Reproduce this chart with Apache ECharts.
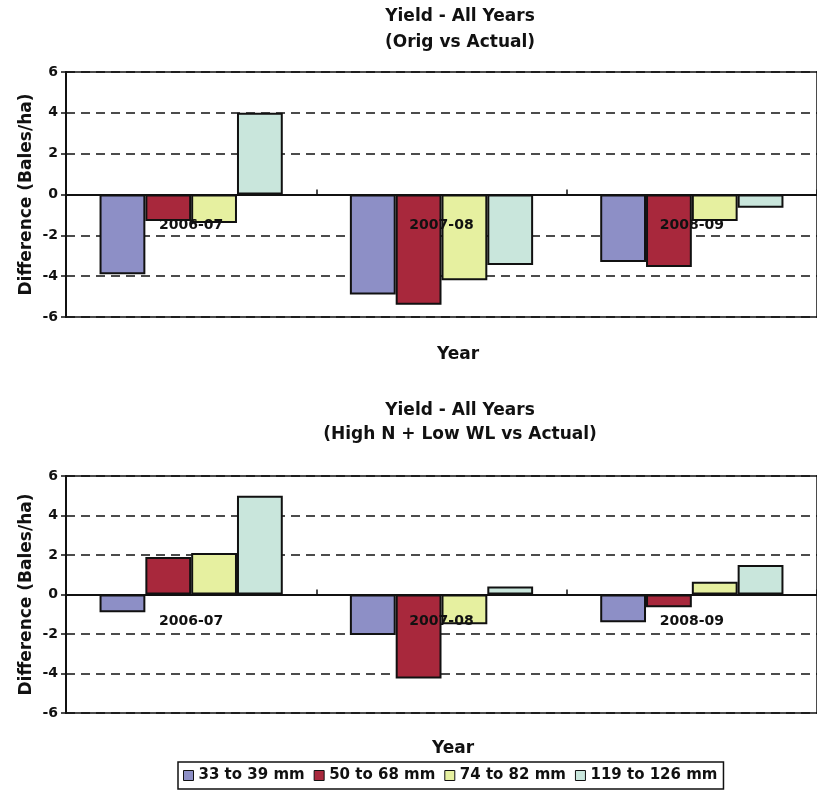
<!DOCTYPE html>
<html>
<head>
<meta charset="utf-8">
<script src="https://cdn.jsdelivr.net/npm/echarts@6/dist/echarts.min.js"></script>
<style>
  html, body { margin: 0; padding: 0; background: #fff; }
  #chart { width: 817px; height: 797px; }
</style>
</head>
<body>
<div id="chart"></div>
<script>
// Seasons on the category axis
const seasons = ['2006-07', '2007-08', '2008-09'];

// Size classes (legend entries)
const classNames = ['33 to 39 mm', '50 to 68 mm', '74 to 82 mm', '119 to 126 mm'];
const classColors = ['#8d8fc6', '#a8283c', '#e6f0a0', '#c9e6dc'];

// Yield difference, original vs actual (bales/ha)
const origVsActual = {
  c33to39:   [-3.9, -4.9, -3.3],
  c50to68:   [-1.3, -5.4, -3.55],
  c74to82:   [-1.4, -4.2, -1.3],
  c119to126: [4.0, -3.45, -0.65]
};

// Yield difference, high N + low WL vs actual (bales/ha)
const highNLowWLVsActual = {
  c33to39:   [-0.9, -2.05, -1.4],
  c50to68:   [1.9, -4.25, -0.65],
  c74to82:   [2.1, -1.5, 0.65],
  c119to126: [5.0, 0.4, 1.5]
};

// Value axis ticks
const yMin = -6, yMax = 6, yStep = 2;

const FONT = 'DejaVu Sans';
const INK = '#111';

const chart = echarts.init(document.getElementById('chart'), null, { renderer: 'canvas' });

const seriesKeys = ['c33to39', 'c50to68', 'c74to82', 'c119to126'];

function barSeries(dataSet, axisIndex) {
  return seriesKeys.map((k, i) => ({
    name: classNames[i],
    type: 'bar',
    xAxisIndex: axisIndex,
    yAxisIndex: axisIndex,
    data: dataSet[k],
    barWidth: '18.3%',
    barGap: '0%',
    itemStyle: { color: classColors[i], borderColor: INK, borderWidth: 2 },
    emphasis: { disabled: true },
    z: 2
  }));
}

// Category labels sit just under the zero line, over the bars
function xAxisDef(gridIndex, labelMargin) {
  return {
    type: 'category',
    gridIndex: gridIndex,
    data: seasons,
    z: 10,
    axisLine: { onZero: true, lineStyle: { color: INK, width: 2 } },
    axisTick: { show: true, inside: true, length: 5, lineStyle: { color: INK, width: 1.5 } },
    axisLabel: { margin: labelMargin, color: INK, fontFamily: FONT, fontWeight: 'bold', fontSize: 14 },
    splitLine: { show: false }
  };
}

function yAxisDef(gridIndex) {
  return {
    type: 'value',
    gridIndex: gridIndex,
    min: yMin,
    max: yMax,
    interval: yStep,
    name: 'Difference (Bales/ha)',
    nameLocation: 'middle',
    nameGap: 31,
    nameMoveOverlap: false,
    nameTextStyle: { color: INK, fontFamily: FONT, fontWeight: 'bold', fontSize: 17 },
    axisLine: { show: true, lineStyle: { color: INK, width: 2 } },
    axisTick: { show: true, length: 5, lineStyle: { color: INK, width: 1.5 } },
    axisLabel: { margin: 8, color: INK, fontFamily: FONT, fontWeight: 'bold', fontSize: 14 },
    splitLine: { show: true, lineStyle: { color: INK, width: 1.5, type: [9, 6] } }
  };
}

const titleStyle = { color: INK, fontFamily: FONT, fontWeight: 'bold', fontSize: 17 };

const option = {
  backgroundColor: '#fff',
  animation: false,
  title: [
    { text: 'Yield - All Years\n(Orig vs Actual)', left: 455, top: -1, textAlign: 'center',
      textStyle: Object.assign({ lineHeight: 26 }, titleStyle) },
    { text: 'Year', left: 453, top: 341, textAlign: 'center',
      textStyle: Object.assign({ lineHeight: 18 }, titleStyle) },
    { text: 'Yield - All Years\n(High N + Low WL vs Actual)', left: 455, top: 394, textAlign: 'center',
      textStyle: Object.assign({ lineHeight: 24 }, titleStyle) },
    { text: 'Year', left: 448, top: 735, textAlign: 'center',
      textStyle: Object.assign({ lineHeight: 18 }, titleStyle) }
  ],
  legend: {
    data: classNames,
    left: 178,
    top: 762,
    orient: 'horizontal',
    padding: [6, 6, 6, 5],
    itemGap: 9,
    itemWidth: 10,
    itemHeight: 10,
    icon: 'rect',
    borderColor: INK,
    borderWidth: 1.5,
    itemStyle: { borderColor: INK, borderWidth: 1 },
    textStyle: { color: INK, fontFamily: FONT, fontWeight: 'bold', fontSize: 15 },
    selectedMode: false
  },
  grid: [
    { left: 66, right: -13, top: 72, bottom: 480, show: true, borderColor: INK, borderWidth: 1.5, backgroundColor: 'transparent' },
    { left: 66, right: -13, top: 476, bottom: 84, show: true, borderColor: INK, borderWidth: 1.5, backgroundColor: 'transparent' }
  ],
  xAxis: [xAxisDef(0, -99), xAxisDef(1, -99)],
  yAxis: [yAxisDef(0), yAxisDef(1)],
  series: barSeries(origVsActual, 0).concat(barSeries(highNLowWLVsActual, 1))
};

chart.setOption(option);
</script>
</body>
</html>
